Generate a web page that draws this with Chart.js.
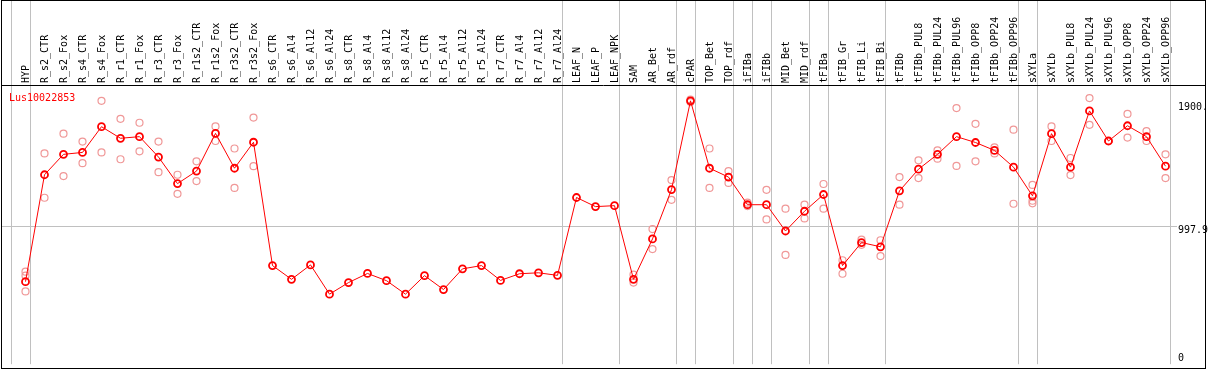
<!DOCTYPE html>
<html>
<head>
<meta charset="utf-8">
<script src="https://cdn.jsdelivr.net/npm/chart.js@4.4.1/dist/chart.umd.min.js"></script>
<style>
  html, body { margin: 0; padding: 0; background: #fff; }
  #wrap { width: 1209px; height: 370px; }
</style>
</head>
<body>
<div id="wrap"><canvas id="chart" width="1209" height="370"></canvas></div>
<script>
const geneName = 'Lus10022853';

const categories = [
  'HYP', 'R_s2_CTR', 'R_s2_Fox', 'R_s4_CTR', 'R_s4_Fox', 'R_r1_CTR', 'R_r1_Fox',
  'R_r3_CTR', 'R_r3_Fox', 'R_r1s2_CTR', 'R_r1s2_Fox', 'R_r3s2_CTR', 'R_r3s2_Fox',
  'R_s6_CTR', 'R_s6_Al4', 'R_s6_Al12', 'R_s6_Al24', 'R_s8_CTR', 'R_s8_Al4',
  'R_s8_Al12', 'R_s8_Al24', 'R_r5_CTR', 'R_r5_Al4', 'R_r5_Al12', 'R_r5_Al24',
  'R_r7_CTR', 'R_r7_Al4', 'R_r7_Al12', 'R_r7_Al24', 'LEAF_N', 'LEAF_P', 'LEAF_NPK',
  'SAM', 'AR_Bet', 'AR_rdf', 'cPAR', 'TOP_Bet', 'TOP_rdf', 'iFIBa', 'iFIBb',
  'MID_Bet', 'MID_rdf', 'tFIBa', 'tFIB_Gr', 'tFIB_Li', 'tFIB_Bi', 'tFIBb',
  'tFIBb_PUL8', 'tFIBb_PUL24', 'tFIBb_PUL96', 'tFIBb_OPP8', 'tFIBb_OPP24', 'tFIBb_OPP96',
  'sXYLa', 'sXYLb', 'sXYLb_PUL8', 'sXYLb_PUL24', 'sXYLb_PUL96', 'sXYLb_OPP8',
  'sXYLb_OPP24', 'sXYLb_OPP96'
];

// mean expression per sample
const meanValues = [
  592, 1377, 1527, 1541, 1730, 1645, 1657, 1507, 1312, 1404, 1681, 1425, 1616,
  710, 609, 715, 500, 585, 652, 599, 500, 636, 534, 686, 710, 601, 650, 657, 638,
  1210, 1143, 1150,
  609, 906, 1268, 1920, 1425, 1360, 1157, 1157, 964, 1109, 1232, 710, 879, 848, 1259,
  1418, 1527, 1657, 1614, 1556, 1433, 1222, 1679, 1433, 1846, 1625, 1737, 1657, 1440
];

// replicates (null = none shown)
const repA = [
  665, 1534, 1679, 1621, 1920, 1788, 1759, 1621, 1377, 1476, 1732, 1570, 1797,
  null, null, null, null, null, null, null, null, null, null, null, null, null, null, null, null,
  null, null, null,
  643, 978, 1338, 1930, 1570, 1404, 1172, 1266, 1128, 1157, 1309, 749, 901, 896, 1360,
  1483, 1556, 1867, 1751, 1578, 1708, 1302, 1732, 1500, 1940, 1625, 1824, 1698, 1527
];
const repB = [
  520, 1208, 1367, 1462, 1541, 1491, 1549, 1396, 1237, 1331, 1625, 1280, 1440,
  null, null, null, null, null, null, null, null, null, null, null, null, null, null, null, null,
  null, null, null,
  585, 831, 1193, 1911, 1280, 1317, 1147, 1049, 788, 1056, 1128, 650, 862, 780, 1157,
  1353, 1495, 1442, 1476, 1534, 1164, 1186, 1625, 1375, 1744, 1625, 1650, 1625, 1353
];
const repC = [
  636, null, null, null, null, null, null, null, null, null, null, null, null,
  null, null, null, null, null, null, null, null, null, null, null, null, null, null, null, null,
  null, null, null,
  null, null, null, null, null, null, null, null, null, null, null, null, null, null, null,
  null, null, null, null, null, null, 1167, null, null, null, null, null, null, null
];

// y axis
const tickValues = [0, 997.9, 1900];
const tickLabels = ['0', '997.9', '1900.'];
const midLine = 997.9;

// index of the last sample in each group (-1 = left edge)
const groupEnds = [-1, 0, 28, 31, 34, 35, 37, 38, 39, 41, 42, 45, 52, 53, 60];

const FONT = 'DejaVu Sans Mono';

const decorPlugin = {
  id: 'decor',
  beforeDatasetsDraw(chart) {
    const { ctx, scales: { x, y }, chartArea } = chart;
    const step = x.getPixelForValue(1) - x.getPixelForValue(0);
    ctx.save();
    ctx.strokeStyle = '#c0c0c0';
    ctx.lineWidth = 1;
    ctx.beginPath();
    groupEnds.forEach(i => {
      const px = Math.round(x.getPixelForValue(0) + (i + 0.24) * step) + 0.5;
      ctx.moveTo(px, 0);
      ctx.lineTo(px, chartArea.bottom);
    });
    const py = Math.round(y.getPixelForValue(midLine)) + 0.5;
    ctx.moveTo(1, py);
    ctx.lineTo(chartArea.right + 2, py);
    ctx.stroke();
    ctx.restore();
  },
  afterDraw(chart) {
    const { ctx, chartArea } = chart;
    ctx.save();
    ctx.strokeStyle = '#000';
    ctx.lineWidth = 1;
    ctx.strokeRect(1.5, 0.5, 1204, 368);
    ctx.beginPath();
    ctx.moveTo(1, chartArea.top - 0.5);
    ctx.lineTo(1206, chartArea.top - 0.5);
    ctx.stroke();
    ctx.fillStyle = '#ff0000';
    ctx.font = '10px "' + FONT + '"';
    ctx.textBaseline = 'top';
    ctx.fillText(geneName, 9, chartArea.top + 7);
    ctx.restore();
  }
};

const repStyle = {
  showLine: false,
  pointRadius: 3.5,
  pointBorderWidth: 1.2,
  pointBorderColor: '#f09898',
  pointBackgroundColor: 'rgba(0,0,0,0)',
  order: 2
};

new Chart(document.getElementById('chart'), {
  type: 'line',
  data: {
    labels: categories,
    datasets: [
      {
        data: meanValues,
        borderColor: '#ff0000',
        borderWidth: 1,
        tension: 0,
        pointRadius: 3.5,
        pointBorderWidth: 1.8,
        pointBorderColor: '#ff0000',
        pointBackgroundColor: 'rgba(0,0,0,0)',
        order: 0
      },
      Object.assign({ data: repA }, repStyle),
      Object.assign({ data: repB }, repStyle),
      Object.assign({ data: repC }, repStyle)
    ]
  },
  options: {
    responsive: false,
    animation: false,
    events: [],
    layout: { padding: { left: 16, right: 0, top: 0, bottom: 2 } },
    plugins: {
      legend: { display: false },
      tooltip: { enabled: false }
    },
    scales: {
      x: {
        position: 'top',
        offset: true,
        grid: { display: false, drawTicks: false },
        border: { display: false },
        ticks: {
          autoSkip: false,
          minRotation: 90,
          maxRotation: 90,
          padding: 3,
          labelOffset: 13,
          color: '#000',
          font: { family: FONT, size: 10 }
        },
        afterFit(scale) {
          scale.height = 86;
          scale.paddingLeft = 0;
          scale.paddingRight = 0;
        }
      },
      y: {
        position: 'right',
        min: -14.5,
        max: 2029,
        grid: { display: false, drawTicks: false },
        border: { display: false },
        afterBuildTicks(scale) {
          scale.ticks = tickValues.map(v => ({ value: v }));
        },
        ticks: {
          padding: 3,
          color: '#000',
          font: { family: FONT, size: 10, lineHeight: 0.8 },
          callback(value) {
            const label = tickLabels[tickValues.indexOf(value)];
            return value === 0 ? [label, ''] : ['', label];
          }
        },
        afterFit(scale) {
          scale.width = 34;
          scale.paddingTop = 0;
          scale.paddingBottom = 0;
        }
      }
    }
  },
  plugins: [decorPlugin]
});
</script>
</body>
</html>
